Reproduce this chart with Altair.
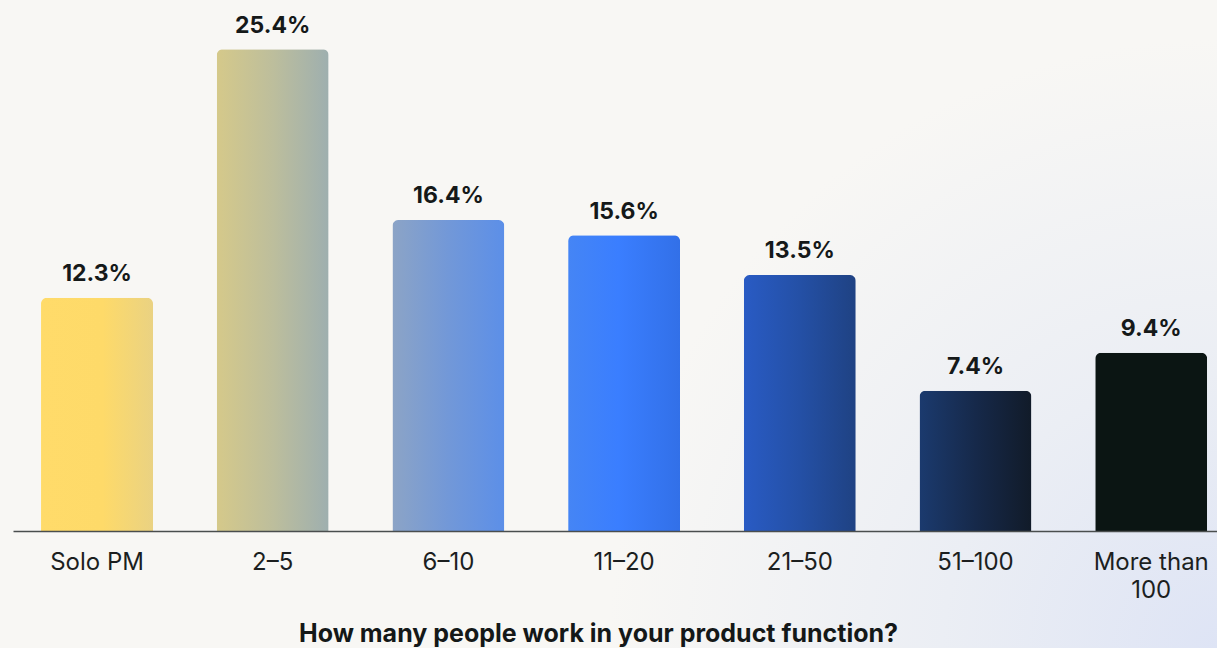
import altair as alt
import pandas as pd

# Survey answers: team size of the product function and share of respondents (%)
categories = ["Solo PM", "2–5", "6–10", "11–20", "21–50", "51–100", "More than 100"]
shares = [12.3, 25.4, 16.4, 15.6, 13.5, 7.4, 9.4]

# Horizontal gradient stops for each bar, left to right (offset, colour)
bar_gradients = [
    [(0.0, "#FFDB6A"), (0.55, "#FEDA69"), (1.0, "#EAD282")],
    [(0.0, "#D5C98A"), (0.5, "#BDBE9C"), (1.0, "#9EAFAF")],
    [(0.0, "#8CA4C6"), (0.5, "#7298D8"), (1.0, "#5C8FE8")],
    [(0.0, "#4585F5"), (0.45, "#3A7EFF"), (1.0, "#3270E8")],
    [(0.0, "#295BC4"), (0.5, "#2450A6"), (1.0, "#1F4283")],
    [(0.0, "#1B3A6E"), (0.5, "#16294A"), (1.0, "#111B29")],
    [(0.0, "#0B1513"), (1.0, "#0B1513")],
]

FONT = "Inter"
BG = "#F8F7F4"
W, H = 1204, 531
PAD = {"left": 13, "top": 0, "right": 0, "bottom": 117}

df = pd.DataFrame({"cat": categories, "share": shares})

x_enc = alt.X(
    "cat:N",
    sort=categories,
    scale=alt.Scale(domain=categories, paddingInner=0.3626, paddingOuter=0.1076, align=0.741),
    axis=alt.Axis(
        title="How many people work in your product function?",
        titleFont=FONT,
        titleFontSize=25,
        titleFontWeight="bold",
        titleColor="#141818",
        titleX=585,
        titleY=110,
        titleAlign="center",
        titleBaseline="alphabetic",
        labelAngle=0,
        labelFont=FONT,
        labelFontSize=24,
        labelColor="#1c1f1f",
        labelPadding=19,
        labelLineHeight=28,
        labelExpr="datum.label == 'More than 100' ? ['More than', '100'] : datum.label",
        ticks=False,
        domainColor="#4a4e4e",
        domainWidth=1.5,
        grid=False,
        zindex=1,
    ),
)
y_enc = alt.Y("share:Q", scale=alt.Scale(domain=[0, 28], nice=False), axis=None)

# Soft bluish glow rising from the bottom-right corner
backdrop = alt.Chart(pd.DataFrame({"k": [0]})).mark_rect(
    fill=alt.RadialGradient(
        gradient="radial",
        x1=1, y1=0.766, r1=0,
        x2=1, y2=0.766, r2=0.5,
        stops=[
            alt.GradientStop(offset=0, color="#DEE4F5"),
            alt.GradientStop(offset=0.45, color="#EBEEF4"),
            alt.GradientStop(offset=1, color=BG),
        ],
    )
).encode(
    x=alt.value(-PAD["left"]),
    x2=alt.value(W + PAD["right"]),
    y=alt.value(-PAD["top"]),
    y2=alt.value(H + PAD["bottom"]),
)

bars = []
for cat, stops in zip(categories, bar_gradients):
    bars.append(
        alt.Chart(df)
        .transform_filter(alt.datum.cat == cat)
        .mark_bar(
            cornerRadiusTopLeft=6,
            cornerRadiusTopRight=6,
            fill=alt.LinearGradient(
                gradient="linear",
                x1=0, y1=0, x2=1, y2=0,
                stops=[alt.GradientStop(offset=o, color=c) for o, c in stops],
            ),
        )
        .encode(x=x_enc, y=y_enc)
    )

labels = (
    alt.Chart(df)
    .transform_calculate(txt="format(datum.share, '.1f') + '%'")
    .mark_text(
        dy=-16.5,
        baseline="alphabetic",
        font=FONT,
        fontSize=23,
        fontWeight="bold",
        color="#151919",
    )
    .encode(x=x_enc, y=y_enc, text="txt:N")
)

chart = (
    alt.layer(backdrop, *bars, labels)
    .properties(
        width=W,
        height=H,
        background=BG,
        padding=PAD,
        autosize=alt.AutoSizeParams(type="none"),
    )
    .configure_view(stroke=None)
)

chart.save("out.html", embed_options={"renderer": "svg", "actions": False})
